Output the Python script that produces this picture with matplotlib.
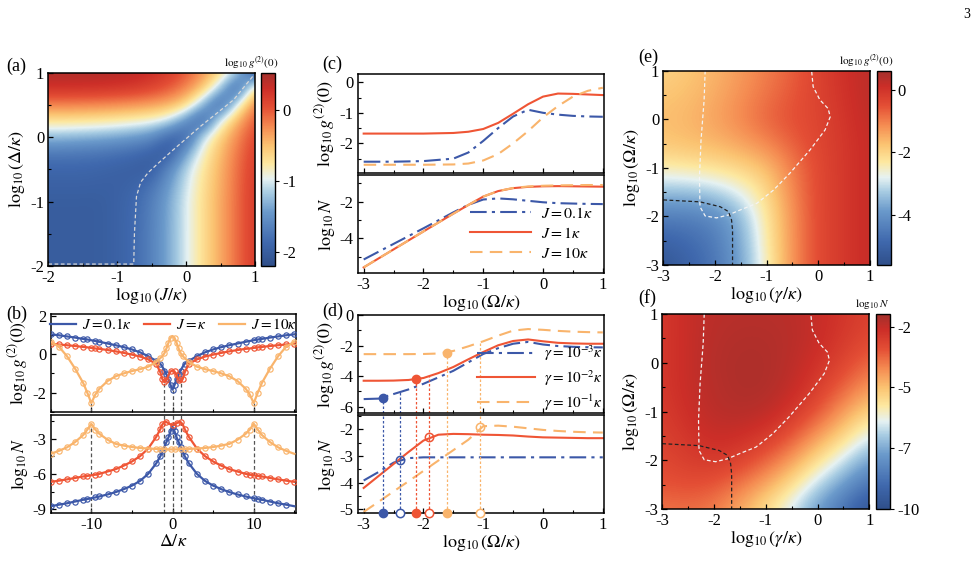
import numpy as np
import matplotlib
matplotlib.use("Agg")
import matplotlib.pyplot as plt
from matplotlib.colors import LinearSegmentedColormap
from matplotlib.ticker import MultipleLocator, FormatStrFormatter

plt.rcParams["font.family"] = "serif"
plt.rcParams["font.serif"] = ["Liberation Serif", "DejaVu Serif"]
plt.rcParams["mathtext.fontset"] = "stix"
plt.rcParams["axes.unicode_minus"] = False

# =====================================
# DATA
# =====================================

# (a) log10 g2(0) map, rows = log10(Delta/kappa), cols = log10(J/kappa)
A_LOG_J = [-2.0, -1.75, -1.5, -1.25, -1.0, -0.75, -0.5, -0.25, 0.0, 0.25, 0.5, 0.75, 1.0]
A_LOG_DELTA = [-2.0, -1.75, -1.5, -1.25, -1.0, -0.75, -0.5, -0.25, 0.0, 0.25, 0.5, 0.75, 1.0]
A_G2 = [
    [-2.0, -2.0, -2.0, -2.0, -1.95, -1.85, -1.65, -1.35, -1.0, -0.68, -0.38, -0.08, 0.2],
    [-2.0, -2.0, -2.0, -2.0, -1.95, -1.85, -1.65, -1.35, -1.0, -0.68, -0.38, -0.08, 0.2],
    [-2.0, -2.0, -2.0, -2.0, -1.95, -1.85, -1.65, -1.35, -1.0, -0.68, -0.38, -0.08, 0.2],
    [-2.0, -2.0, -2.0, -2.0, -1.95, -1.86, -1.66, -1.36, -1.0, -0.68, -0.38, -0.08, 0.2],
    [-2.0, -2.0, -2.0, -2.0, -1.95, -1.87, -1.68, -1.37, -1.0, -0.68, -0.38, -0.08, 0.2],
    [-1.95, -1.95, -1.95, -1.96, -1.96, -1.92, -1.78, -1.45, -1.05, -0.7, -0.4, -0.09, 0.2],
    [-1.9, -1.9, -1.9, -1.92, -1.95, -1.98, -2.0, -1.6, -1.12, -0.74, -0.42, -0.1, 0.18],
    [-1.72, -1.72, -1.74, -1.76, -1.8, -1.85, -1.95, -2.05, -1.4, -0.85, -0.47, -0.14, 0.15],
    [-1.25, -1.27, -1.3, -1.33, -1.38, -1.45, -1.55, -1.9, -1.95, -1.05, -0.58, -0.22, 0.1],
    [-0.7, -0.7, -0.72, -0.74, -0.78, -0.83, -0.9, -1.05, -1.55, -2.0, -0.95, -0.4, 0.0],
    [-0.18, -0.18, -0.19, -0.2, -0.23, -0.26, -0.31, -0.4, -0.6, -1.3, -2.0, -0.95, -0.15],
    [0.28, 0.28, 0.27, 0.26, 0.24, 0.2, 0.12, 0.0, -0.2, -0.5, -1.2, -2.05, -0.6],
    [0.47, 0.47, 0.47, 0.46, 0.44, 0.4, 0.32, 0.19, 0.0, -0.27, -0.6, -1.15, -2.1],
]
A_GUIDE_X = [-2.0, -0.76, -0.75, -0.72, -0.66, -0.55, -0.43, -0.19, 0.2, 0.69, 0.98]
A_GUIDE_Y = [-1.97, -1.97, -1.5, -0.92, -0.7, -0.55, -0.43, -0.2, 0.16, 0.58, 0.96]

# (b) cuts versus Delta/kappa (Delta >= 0, curves are even in Delta)
B_DELTA_HALF = [0.0, 0.25, 0.5, 0.75, 1.0, 1.25, 1.5, 2.0, 3.0, 4.0, 5.0, 6.0,
                7.0, 8.0, 9.0, 9.5, 10.0, 10.5, 11.0, 12.0, 13.0, 14.0, 15.0]
B_G2_J01 = [-1.85, -1.6, -1.3, -1.05, -0.85, -0.65, -0.5, -0.35, -0.1, 0.1, 0.25, 0.37,
            0.47, 0.56, 0.65, 0.69, 0.73, 0.77, 0.8, 0.87, 0.93, 0.99, 1.04]
B_G2_J1 = [-0.85, -0.9, -1.1, -1.35, -1.45, -1.3, -0.95, -0.5, -0.27, -0.12, -0.02, 0.07,
           0.15, 0.22, 0.28, 0.3, 0.33, 0.36, 0.38, 0.43, 0.47, 0.51, 0.55]
B_G2_J10 = [0.95, 0.85, 0.6, 0.3, 0.05, -0.1, -0.2, -0.4, -0.65, -0.78, -0.88, -1.0,
            -1.15, -1.4, -1.8, -2.1, -2.55, -2.0, -1.5, -0.75, -0.1, 0.4, 0.65]
B_N_J01 = [-2.0, -2.4, -2.9, -3.3, -3.7, -4.1, -4.5, -5.1, -6.0, -6.6, -7.0, -7.3,
           -7.55, -7.75, -7.92, -8.0, -8.07, -8.14, -8.2, -8.35, -8.5, -8.62, -8.75]
B_N_J1 = [-1.85, -1.8, -1.7, -1.6, -1.6, -1.8, -2.2, -2.85, -3.85, -4.5, -4.95, -5.3,
          -5.6, -5.8, -6.0, -6.07, -6.12, -6.18, -6.22, -6.35, -6.47, -6.58, -6.68]
B_N_J10 = [-3.92, -3.92, -3.92, -3.91, -3.9, -3.9, -3.89, -3.88, -3.85, -3.8, -3.72, -3.6,
           -3.45, -3.1, -2.6, -2.25, -1.75, -2.25, -2.7, -3.3, -3.75, -4.05, -4.3]
B_GUIDE_DELTA = [-10.0, -1.0, 0.0, 1.0, 10.0]
B_LABELS = [r"$J=0.1\kappa$", r"$J=\kappa$", r"$J=10\kappa$"]

# (c) versus log10(Omega/kappa) for three couplings
C_LOG_OMEGA = [-3.0, -2.5, -2.0, -1.5, -1.25, -1.0, -0.75, -0.5, -0.25, 0.0, 0.25, 0.5, 0.75, 1.0]
C_G2_J01 = [-2.6, -2.6, -2.58, -2.5, -2.3, -1.92, -1.5, -1.12, -0.9, -1.0, -1.06, -1.1, -1.12, -1.13]
C_G2_J1 = [-1.68, -1.68, -1.68, -1.66, -1.62, -1.53, -1.33, -1.03, -0.72, -0.47, -0.37, -0.38, -0.4, -0.42]
C_G2_J10 = [-2.7, -2.7, -2.7, -2.69, -2.66, -2.56, -2.35, -2.0, -1.6, -1.15, -0.78, -0.47, -0.28, -0.18]
C_N_J01 = [-5.15, -4.3, -3.45, -2.58, -2.17, -1.88, -1.82, -1.87, -1.95, -2.03, -2.08, -2.1, -2.12, -2.13]
C_N_J1 = [-5.58, -4.6, -3.62, -2.65, -2.18, -1.72, -1.42, -1.26, -1.19, -1.16, -1.15, -1.16, -1.17, -1.18]
C_N_J10 = [-5.58, -4.6, -3.62, -2.65, -2.18, -1.72, -1.42, -1.25, -1.17, -1.13, -1.11, -1.1, -1.09, -1.09]
C_LABELS = [r"$J=0.1\kappa$", r"$J=1\kappa$", r"$J=10\kappa$"]

# (d) versus log10(Omega/kappa) for three dissipation rates
D_LOG_OMEGA = [-3.0, -2.75, -2.5, -2.25, -2.0, -1.75, -1.5, -1.25, -1.0,
               -0.75, -0.5, -0.25, 0.0, 0.25, 0.5, 0.75, 1.0]
D_G2_G3 = [-5.5, -5.47, -5.17, -4.87, -4.5, -4.08, -3.65, -3.1, -2.55,
           -2.17, -1.88, -1.76, -1.93, -2.03, -2.08, -2.11, -2.12]
D_G2_G2 = [-4.3, -4.3, -4.29, -4.25, -4.12, -3.8, -3.4, -2.9, -2.42,
           -1.98, -1.7, -1.6, -1.72, -1.82, -1.86, -1.88, -1.88]
D_G2_G1 = [-2.56, -2.56, -2.56, -2.56, -2.55, -2.52, -2.35, -2.05, -1.72,
           -1.35, -1.02, -0.92, -0.97, -1.04, -1.09, -1.12, -1.14]
D_N_G3 = [-3.92, -3.6, -3.25, -3.08, -3.05, -3.05, -3.05, -3.05, -3.05,
          -3.05, -3.05, -3.05, -3.05, -3.05, -3.05, -3.05, -3.05]
D_N_G2 = [-4.2, -3.75, -3.3, -2.85, -2.42, -2.2, -2.17, -2.18, -2.2,
          -2.21, -2.23, -2.27, -2.3, -2.31, -2.32, -2.33, -2.33]
D_N_G1 = [-5.1, -4.72, -4.33, -3.95, -3.56, -3.17, -2.78, -2.39, -1.88,
          -1.86, -1.9, -1.96, -2.02, -2.06, -2.09, -2.11, -2.12]
D_FILLED_X = [-2.68, -2.13, -1.6]
D_FILLED_Y = [-5.45, -4.2, -2.47]
D_OPEN_X = [-2.4, -1.9, -1.05]
D_OPEN_Y = [-3.15, -2.3, -1.9]
D_LABELS = [r"$\gamma=10^{-3}\kappa$", r"$\gamma=10^{-2}\kappa$", r"$\gamma=10^{-1}\kappa$"]

# (e), (f) maps, rows = log10(Omega/kappa), cols = log10(gamma/kappa)
EF_LOG_GAMMA = [-3.0, -2.5, -2.0, -1.5, -1.0, -0.5, 0.0, 0.5, 1.0]
EF_LOG_OMEGA = [-3.0, -2.5, -2.0, -1.5, -1.0, -0.5, 0.0, 0.5, 1.0]
E_G2 = [
    [-5.4, -5.0, -4.6, -3.8, -2.5, -1.2, -0.4, -0.1, 0.2],
    [-5.0, -4.8, -4.5, -3.7, -2.4, -1.2, -0.4, -0.1, 0.2],
    [-4.4, -4.4, -4.2, -3.5, -2.3, -1.2, -0.4, -0.1, 0.2],
    [-3.4, -3.4, -3.2, -2.8, -2.1, -1.1, -0.4, -0.1, 0.2],
    [-2.4, -2.3, -2.2, -2.0, -1.7, -1.0, -0.4, -0.1, 0.2],
    [-1.8, -1.7, -1.6, -1.4, -1.1, -0.7, -0.35, -0.1, 0.2],
    [-1.7, -1.6, -1.4, -1.1, -0.75, -0.5, -0.35, -0.05, 0.25],
    [-1.8, -1.7, -1.5, -1.2, -0.9, -0.6, -0.3, 0.0, 0.3],
    [-2.0, -1.8, -1.6, -1.3, -1.0, -0.7, -0.3, 0.05, 0.3],
]
F_N = [
    [-3.5, -3.4, -3.6, -4.3, -5.2, -6.3, -7.6, -8.7, -9.8],
    [-3.0, -2.9, -3.0, -3.5, -4.2, -5.2, -6.5, -7.6, -8.7],
    [-2.8, -2.5, -2.4, -2.6, -3.2, -4.0, -5.2, -6.3, -7.5],
    [-2.6, -2.3, -2.0, -2.1, -2.4, -3.0, -4.0, -5.0, -6.2],
    [-2.5, -2.1, -1.8, -1.7, -1.8, -2.3, -3.0, -4.0, -5.0],
    [-2.4, -2.0, -1.75, -1.6, -1.6, -1.9, -2.5, -3.2, -4.0],
    [-2.4, -2.0, -1.7, -1.6, -1.6, -1.8, -2.2, -2.7, -3.3],
    [-2.4, -2.0, -1.75, -1.65, -1.65, -1.75, -2.0, -2.4, -2.8],
    [-2.4, -2.0, -1.8, -1.75, -1.75, -1.8, -2.0, -2.3, -2.6],
]
EF_WHITE_X = [-2.19, -2.21, -2.27, -2.30, -2.29, -2.19, -1.97, -1.74, -1.52, -1.19,
              -0.87, -0.55, -0.16, 0.13, 0.23, 0.19, 0.03, -0.1, -0.13]
EF_WHITE_Y = [1.0, 0.4, -0.43, -1.18, -1.8, -1.99, -2.03, -1.97, -1.87, -1.73,
              -1.46, -1.11, -0.63, -0.22, 0.05, 0.22, 0.4, 0.67, 1.0]
EF_BLACK_X = [-3.0, -2.29, -1.9, -1.74, -1.68, -1.66, -1.66]
EF_BLACK_Y = [-1.66, -1.7, -1.8, -1.9, -2.07, -2.28, -3.0]

# =====================================
# STYLE
# =====================================

BLUE = "#3c58a8"
RED = "#ef5535"
ORANGE = "#f9b46c"

CMAP = LinearSegmentedColormap.from_list(
    "map",
    [
        (0.0, "#2f4f8a"), (0.12, "#3f68ad"), (0.28, "#6b9acb"), (0.38, "#a9cde3"),
        (0.45, "#e6f2f2"), (0.53, "#fde8a0"), (0.62, "#fbc472"), (0.72, "#f58c52"),
        (0.82, "#e44f35"), (0.92, "#cc2e28"), (1.0, "#a3302c"),
    ]
)

W, H = 977, 581


def box(left, top, right, bottom):
    return [left / W, 1 - bottom / H, (right - left) / W, (bottom - top) / H]


def style(ax, xmaj, ymaj, xmin=None, ymin=None):
    ax.xaxis.set_major_locator(MultipleLocator(xmaj))
    ax.yaxis.set_major_locator(MultipleLocator(ymaj))
    if xmin:
        ax.xaxis.set_minor_locator(MultipleLocator(xmin))
    if ymin:
        ax.yaxis.set_minor_locator(MultipleLocator(ymin))
    ax.xaxis.set_major_formatter(FormatStrFormatter("%g"))
    ax.yaxis.set_major_formatter(FormatStrFormatter("%g"))
    ax.tick_params(which="major", direction="in", length=3.5, width=0.9,
                   labelsize=12, pad=3)
    ax.tick_params(which="minor", direction="in", length=2, width=0.8)
    for s in ax.spines.values():
        s.set_linewidth(1.1)


def heatmap(ax, cax, xs, ys, z, vmin, vmax):
    dx = (xs[1] - xs[0]) / 2
    dy = (ys[1] - ys[0]) / 2
    im = ax.imshow(
        np.array(z), origin="lower", aspect="auto", cmap=CMAP,
        vmin=vmin, vmax=vmax, interpolation="bicubic",
        extent=[xs[0] - dx, xs[-1] + dx, ys[0] - dy, ys[-1] + dy]
    )
    ax.set_xlim(xs[0], xs[-1])
    ax.set_ylim(ys[0], ys[-1])
    cb = plt.colorbar(im, cax=cax)
    cb.outline.set_linewidth(1.0)
    cax.tick_params(direction="out", length=3, width=0.8, labelsize=12, pad=2)
    return cb


def mirror(values):
    v = np.array(values)
    return np.concatenate([v[::-1], v[1:]])


fig = plt.figure(figsize=(9.77, 5.81), dpi=100)

G2_LABEL = r"$\log_{10}g^{(2)}(0)$"
N_LABEL = r"$\log_{10}N$"
OMEGA_LABEL = r"$\log_{10}(\Omega/\kappa)$"
GAMMA_LABEL = r"$\log_{10}(\gamma/\kappa)$"
FS_LABEL = 13

# =====================================
# (a)
# =====================================

ax_a = fig.add_axes(box(48.3, 72.7, 255, 266))
cax_a = fig.add_axes(box(261, 72.7, 275, 266))
cb = heatmap(ax_a, cax_a, A_LOG_J, A_LOG_DELTA, A_G2, -2.2, 0.53)
cb.set_ticks([-2, -1, 0])
cb.ax.yaxis.set_major_formatter(FormatStrFormatter("%g"))
ax_a.plot(A_GUIDE_X, A_GUIDE_Y, color="#d8d8d8", lw=0.9, dashes=(3, 2))
style(ax_a, 1, 1, 0.5, 0.5)
ax_a.set_xlabel(r"$\log_{10}(J/\kappa)$", fontsize=FS_LABEL, labelpad=0)
ax_a.set_ylabel(r"$\log_{10}(\Delta/\kappa)$", fontsize=FS_LABEL, labelpad=2)
fig.text(278 / W, 1 - 63 / H, r"$\log_{10}g^{(2)}(0)$", fontsize=8,
         ha="right", va="center")

# =====================================
# (b)
# =====================================

ax_b1 = fig.add_axes(box(50.7, 314, 296, 411.7))
ax_b2 = fig.add_axes(box(50.7, 415, 296, 512.7))
delta = np.concatenate([-np.array(B_DELTA_HALF)[::-1], np.array(B_DELTA_HALF)[1:]])

for ax, series in (
    (ax_b1, (B_G2_J01, B_G2_J1, B_G2_J10)),
    (ax_b2, (B_N_J01, B_N_J1, B_N_J10)),
):
    for vals, color, lab in zip(series, (BLUE, RED, ORANGE), B_LABELS):
        y = mirror(vals)
        ax.plot(delta, y, color=color, lw=1.6, label=lab, zorder=3)
        ax.plot(delta, y, ls="none", marker="o", ms=3.8, mfc="none",
                mec=color, mew=0.85, markevery=0.021, zorder=3)

i0 = B_DELTA_HALF.index(0.0)
i1 = B_DELTA_HALF.index(1.0)
i10 = B_DELTA_HALF.index(10.0)
b1_tops = [B_G2_J10[i10], B_G2_J1[i1], B_G2_J01[i0], B_G2_J1[i1], B_G2_J10[i10]]
b2_tops = [B_N_J10[i10], -1.0, -1.0, -1.0, B_N_J10[i10]]

ax_b1.set_xlim(-15, 15.2)
ax_b1.set_ylim(-3.0, 2.1)
ax_b2.set_xlim(-15, 15.2)
ax_b2.set_ylim(-9.3, -1.0)
for x, t1, t2 in zip(B_GUIDE_DELTA, b1_tops, b2_tops):
    ax_b1.plot([x, x], [-3.0, t1], color="#555555", lw=0.9, ls=(0, (3, 2)), zorder=2)
    ax_b2.plot([x, x], [-9.3, t2], color="#555555", lw=0.9, ls=(0, (3, 2)), zorder=2)

style(ax_b1, 10, 2, 5, 1)
style(ax_b2, 10, 3, 5, 1.5)
ax_b1.tick_params(labelbottom=False)
ax_b1.set_ylabel(G2_LABEL, fontsize=12.5, labelpad=2)
ax_b2.set_ylabel(N_LABEL, fontsize=12.5, labelpad=2)
ax_b2.set_xlabel(r"$\Delta/\kappa$", fontsize=FS_LABEL, labelpad=0)
ax_b1.legend(loc="upper center", ncol=3, frameon=False, fontsize=11,
             handlelength=1.7, handletextpad=0.4, columnspacing=0.8,
             borderaxespad=0.0, borderpad=0.2)

# =====================================
# (c)
# =====================================

ax_c1 = fig.add_axes(box(357.7, 74, 604, 172.7))
ax_c2 = fig.add_axes(box(357.7, 175.3, 604, 272.7))
dashdot = (0, (8, 2.5, 1.5, 2.5))
dashed = (0, (6, 3.5))
styles = (dashdot, "-", dashed)

for vals, color, ls in zip((C_G2_J01, C_G2_J1, C_G2_J10), (BLUE, RED, ORANGE), styles):
    ax_c1.plot(C_LOG_OMEGA, vals, color=color, ls=ls, lw=1.5)
for vals, color, ls, lab in zip((C_N_J01, C_N_J1, C_N_J10), (BLUE, RED, ORANGE),
                                styles, C_LABELS):
    ax_c2.plot(C_LOG_OMEGA, vals, color=color, ls=ls, lw=1.5, label=lab)

for ax in (ax_c1, ax_c2):
    ax.set_xlim(-3.1, 1.02)
ax_c1.set_ylim(-2.96, 0.27)
ax_c2.set_ylim(-5.87, -0.56)
style(ax_c1, 1, 1, 0.5, 0.5)
style(ax_c2, 1, 2, 0.5, 1)
ax_c1.tick_params(labelbottom=False)
ax_c1.set_ylabel(G2_LABEL, fontsize=FS_LABEL, labelpad=2)
ax_c2.set_ylabel(N_LABEL, fontsize=FS_LABEL, labelpad=2)
ax_c2.set_xlabel(OMEGA_LABEL, fontsize=FS_LABEL, labelpad=0)
ax_c2.legend(loc="lower right", frameon=False, fontsize=11.5, handlelength=3.8,
             handletextpad=0.6, labelspacing=0.25, borderaxespad=0.3)

# =====================================
# (d)
# =====================================

ax_d1 = fig.add_axes(box(357.7, 315, 604, 413.3))
ax_d2 = fig.add_axes(box(357.7, 415, 604, 512.7))
d_colors = (BLUE, RED, ORANGE)

for vals, color, ls, lab in zip((D_G2_G3, D_G2_G2, D_G2_G1), d_colors, styles, D_LABELS):
    ax_d1.plot(D_LOG_OMEGA, vals, color=color, ls=ls, lw=1.5, label=lab)
for vals, color, ls in zip((D_N_G3, D_N_G2, D_N_G1), d_colors, styles):
    ax_d2.plot(D_LOG_OMEGA, vals, color=color, ls=ls, lw=1.5)

D1_BOTTOM, D1_TOP = -6.43, 0.0
D2_BOTTOM, D2_TOP = -5.13, -1.46
dotted = (0, (2, 1.6))
g2_curves = (D_G2_G3, D_G2_G2, D_G2_G1)
for k, color in enumerate(d_colors):
    xf, yf = D_FILLED_X[k], D_FILLED_Y[k]
    xo, yo = D_OPEN_X[k], D_OPEN_Y[k]
    top_o = np.interp(xo, D_LOG_OMEGA, g2_curves[k])
    ax_d1.plot([xf, xf], [D1_BOTTOM, yf], color=color, lw=0.9, ls=dotted)
    ax_d1.plot([xo, xo], [D1_BOTTOM, top_o], color=color, lw=0.9, ls=dotted)
    ax_d2.plot([xf, xf], [D2_BOTTOM, D2_TOP], color=color, lw=0.9, ls=dotted)
    ax_d2.plot([xo, xo], [D2_BOTTOM, D2_TOP], color=color, lw=0.9, ls=dotted)
    ax_d1.plot(xf, yf, "o", ms=6, color=color, mec=color, zorder=5)
    ax_d2.plot(xo, yo, "o", ms=6, mfc="none", mec=color, mew=1.1, zorder=5)
    ax_d2.plot(xf, D2_BOTTOM, "o", ms=6, color=color, clip_on=False, zorder=6)
    ax_d2.plot(xo, D2_BOTTOM, "o", ms=6, mfc="white", mec=color, mew=1.1,
               clip_on=False, zorder=6)

for ax in (ax_d1, ax_d2):
    ax.set_xlim(-3.1, 1.02)
ax_d1.set_ylim(D1_BOTTOM, D1_TOP)
ax_d2.set_ylim(D2_BOTTOM, D2_TOP)
style(ax_d1, 1, 2, 0.5, 1)
style(ax_d2, 1, 1, 0.5, 0.5)
ax_d1.tick_params(labelbottom=False)
ax_d1.set_ylabel(G2_LABEL, fontsize=FS_LABEL, labelpad=2)
ax_d2.set_ylabel(N_LABEL, fontsize=FS_LABEL, labelpad=2)
ax_d2.set_xlabel(OMEGA_LABEL, fontsize=FS_LABEL, labelpad=0)
ax_d1.legend(loc="lower right", frameon=False, fontsize=11, handlelength=3.8,
             handletextpad=0.6, labelspacing=0.3, borderaxespad=0.0,
             borderpad=0.05)

# =====================================
# (e), (f)
# =====================================

ax_e = fig.add_axes(box(663.3, 70.7, 870, 265))
cax_e = fig.add_axes(box(876.7, 70.7, 890.7, 265))
cb = heatmap(ax_e, cax_e, EF_LOG_GAMMA, EF_LOG_OMEGA, E_G2, -5.6, 0.6)
cb.set_ticks([-4, -2, 0])
cb.ax.yaxis.set_major_formatter(FormatStrFormatter("%g"))
fig.text(893 / W, 1 - 61 / H, r"$\log_{10}g^{(2)}(0)$", fontsize=8,
         ha="right", va="center")

ax_f = fig.add_axes(box(662.3, 314, 869.3, 509))
cax_f = fig.add_axes(box(876, 314, 890, 509))
cb = heatmap(ax_f, cax_f, EF_LOG_GAMMA, EF_LOG_OMEGA, F_N, -10.0, -1.4)
cb.set_ticks([-10.0, -7.3, -4.63, -1.98])
cb.ax.yaxis.set_major_formatter(FormatStrFormatter("%.0f"))
fig.text(889 / W, 1 - 304 / H, r"$\log_{10}N$", fontsize=8,
         ha="right", va="center")

for ax in (ax_e, ax_f):
    ax.plot(EF_WHITE_X, EF_WHITE_Y, color="#f4f4f4", lw=0.9, dashes=(3, 2))
    ax.plot(EF_BLACK_X, EF_BLACK_Y, color="#222222", lw=0.9, dashes=(3, 2))
    style(ax, 1, 1, 0.5, 0.5)
    ax.set_xlabel(GAMMA_LABEL, fontsize=FS_LABEL, labelpad=0)
    ax.set_ylabel(OMEGA_LABEL, fontsize=FS_LABEL, labelpad=2)

# =====================================
# PANEL LABELS
# =====================================

for lab, x, y in (("(a)", 6, 66), ("(b)", 6, 314), ("(c)", 322, 64),
                  ("(d)", 322, 311), ("(e)", 638, 57), ("(f)", 638, 298)):
    fig.text(x / W, 1 - y / H, lab, fontsize=13, ha="left", va="center")

fig.text(970 / W, 1 - 15 / H, "3", fontsize=10, ha="right", va="center")

fig.savefig("out.png", dpi=100)
